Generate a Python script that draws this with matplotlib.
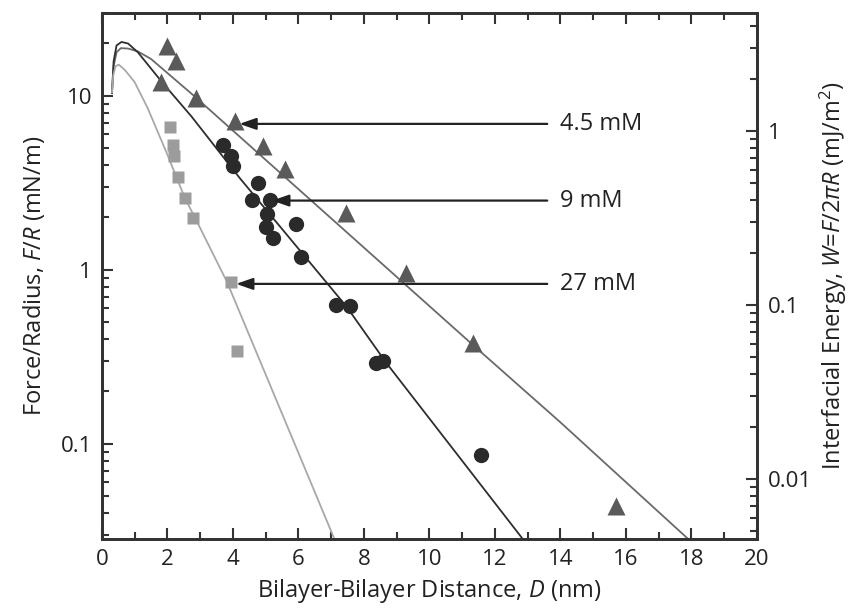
import numpy as np
import matplotlib
matplotlib.use("Agg")
import matplotlib.pyplot as plt
from matplotlib.ticker import MultipleLocator, LogLocator, NullFormatter, FuncFormatter

plt.rcParams['font.family'] = ['Open Sans', 'DejaVu Sans']
plt.rcParams['mathtext.fontset'] = 'custom'
plt.rcParams['mathtext.rm'] = 'Open Sans'
plt.rcParams['mathtext.it'] = 'Open Sans:italic'

# measured points (D in nm, F/R in mN/m)
tri_d = [1.98, 2.26, 1.80, 2.87, 4.06, 4.92, 5.59, 7.45, 9.28, 11.33, 15.70]
tri_f = [19.4, 15.9, 12.0, 9.7, 7.2, 5.15, 3.8, 2.12, 0.96, 0.38, 0.044]

circ_d = [3.69, 3.94, 4.00, 4.76, 4.58, 5.13, 5.04, 5.00, 5.22, 5.92, 6.08, 7.15, 7.57, 8.37, 8.58, 11.57]
circ_f = [5.2, 4.5, 3.95, 3.15, 2.52, 2.52, 2.09, 1.76, 1.52, 1.83, 1.18, 0.63, 0.62, 0.29, 0.30, 0.086]

sq_d = [2.08, 2.17, 2.20, 2.32, 2.53, 2.78, 3.94, 4.12]
sq_f = [6.6, 5.2, 4.5, 3.4, 2.6, 1.98, 0.85, 0.34]

# fitted curves
fit45_d = [0.31, 0.36, 0.45, 0.58, 0.80, 1.10, 1.50, 2.13, 2.84, 11.33, 13.98, 17.9]
fit45_f = [10.4, 14.8, 17.8, 18.8, 18.7, 18.0, 16.3, 12.9, 9.9, 0.37, 0.134, 0.0284]

fit9_d = [0.31, 0.36, 0.45, 0.60, 0.80, 1.10, 1.82, 2.74, 4.21, 7.47, 8.69, 12.85]
fit9_f = [10.4, 15.8, 19.5, 20.4, 20.0, 17.8, 12.1, 7.6, 3.37, 0.615, 0.291, 0.0284]

fit27_d = [0.31, 0.35, 0.42, 0.52, 0.70, 1.00, 1.40, 2.00, 2.53, 2.93, 3.82, 7.10]
fit27_f = [10.5, 13.2, 14.8, 15.1, 14.1, 12.0, 8.5, 4.6, 2.6, 1.85, 0.853, 0.0284]

labels = ['4.5 mM', '9 mM', '27 mM']
label_y = [6.9, 2.5, 0.83]
head_x = [4.2, 5.2, 4.1]

ymin, ymax = 0.0284, 30.0

fig = plt.figure(figsize=(8.63, 6.11), dpi=100)
ax = fig.add_axes([0.118, 0.118, 0.759, 0.861])

ax.plot(fit45_d, fit45_f, color='#6a6a6a', lw=1.3, zorder=2)
ax.plot(fit9_d, fit9_f, color='#2e2e2e', lw=1.3, zorder=2)
ax.plot(fit27_d, fit27_f, color='#a8a8a8', lw=1.3, zorder=2)

ax.plot(tri_d, tri_f, '^', color='#5a5a5a', ms=13, mec='none', zorder=3)
ax.plot(circ_d, circ_f, 'o', color='#2a2a2a', ms=11, mec='none', zorder=3)
ax.plot(sq_d, sq_f, 's', color='#9c9c9c', ms=9, mec='none', zorder=3)

for lab, yv, hx in zip(labels, label_y, head_x):
    ax.annotate('', xy=(hx, yv), xytext=(13.6, yv),
                arrowprops=dict(arrowstyle='-|>,head_length=1.0,head_width=0.35',
                                color='#222222', lw=1.6, shrinkA=0, shrinkB=0))
    ax.text(14.0, yv, lab, fontsize=17, va='center', ha='left', color='#222222')

ax.set_xlim(0, 20)
ax.set_yscale('log')
ax.set_ylim(ymin, ymax)

ax.xaxis.set_major_locator(MultipleLocator(2))
ax.xaxis.set_minor_locator(MultipleLocator(1))
ax.yaxis.set_major_locator(LogLocator(base=10))
ax.yaxis.set_minor_locator(LogLocator(base=10, subs=np.arange(2, 10)))
ax.yaxis.set_minor_formatter(NullFormatter())
ax.yaxis.set_major_formatter(FuncFormatter(lambda v, p: '%g' % v))

ax.tick_params(which='both', direction='in', top=True, right=False, labelsize=16,
               color='#333333', width=1.5, labelcolor='#222222')
ax.tick_params(which='major', length=8, pad=7)
ax.tick_params(which='minor', length=5)
for s in ax.spines.values():
    s.set_linewidth(2)
    s.set_color('#333333')

ax.set_xlabel('Bilayer-Bilayer Distance, $D$ (nm)', fontsize=17, labelpad=5, color='#222222')
ax.set_ylabel('Force/Radius, $F/R$ (mN/m)', fontsize=17, labelpad=10, color='#222222')

# right axis: W = F/(2 pi R)
ax2 = ax.twinx()
ax2.set_yscale('log')
ax2.set_ylim(ymin / (2 * np.pi), ymax / (2 * np.pi))
ax2.yaxis.set_major_locator(LogLocator(base=10))
ax2.yaxis.set_minor_locator(LogLocator(base=10, subs=np.arange(2, 10)))
ax2.yaxis.set_minor_formatter(NullFormatter())
ax2.yaxis.set_major_formatter(FuncFormatter(lambda v, p: '%g' % v))
ax2.tick_params(which='both', direction='in', labelsize=16, color='#333333', width=1.5,
                labelcolor='#222222')
ax2.tick_params(which='major', length=8, pad=8)
ax2.tick_params(which='minor', length=5)
for s in ax2.spines.values():
    s.set_linewidth(2)
    s.set_color('#333333')
ax2.set_ylabel('Interfacial Energy, $W$=$F$/2$\\pi R$ (mJ/m$^2$)', fontsize=17, labelpad=4,
               color='#222222')

fig.savefig('out.png', dpi=100)
